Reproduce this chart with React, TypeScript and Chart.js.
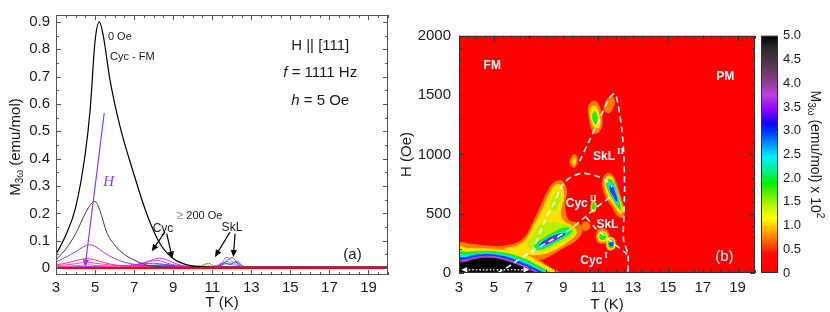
import React, { useEffect, useRef } from 'react';
import { Chart, registerables } from 'chart.js';

Chart.register(...registerables);

const SANS = '"Liberation Sans", Arial, Helvetica, sans-serif';
const SERIF = '"Liberation Serif", "Times New Roman", serif';
const INK = '#1a1a1a';

// ================= Panel (a): M3ω vs T =================
const aXTicks = [3, 5, 7, 9, 11, 13, 15, 17, 19];
const aYTicks = [0, 0.1, 0.2, 0.3, 0.4, 0.5, 0.6, 0.7, 0.8, 0.9];
const aYLabels = ['0', '0.1', '0.2', '0.3', '0.4', '0.5', '0.6', '0.7', '0.8', '0.9'];

const T_0Oe = [3, 3.5, 4, 4.5, 4.75, 5.0, 5.22, 5.42, 5.76, 6.27, 6.96, 7.64, 8.32, 9.0, 9.7, 10.5, 12, 20];
const M_0Oe = [0.05, 0.12, 0.22, 0.42, 0.58, 0.83, 0.9, 0.85, 0.69, 0.52, 0.35, 0.2, 0.09, 0.035, 0.012, 0.005, 0.003, 0.003];
const T_50Oe = [3, 3.5, 4, 4.5, 4.75, 5.0, 5.25, 5.6, 6.0, 6.5, 7.0, 7.6, 8.5, 10, 20];
const M_50Oe = [0.03, 0.07, 0.125, 0.2, 0.23, 0.244, 0.21, 0.13, 0.085, 0.05, 0.03, 0.012, 0.005, 0.003, 0.003];
const T_100Oe = [3, 3.5, 4, 4.4, 4.75, 5.05, 5.4, 6, 6.5, 7, 8, 9, 10, 20];
const M_100Oe = [0.023, 0.04, 0.06, 0.078, 0.085, 0.078, 0.06, 0.035, 0.022, 0.014, 0.008, 0.005, 0.003, 0.003];
const T_125Oe = [3, 3.5, 4, 4.6, 5, 5.5, 6, 7, 8, 20];
const M_125Oe = [0.012, 0.018, 0.027, 0.035, 0.03, 0.02, 0.012, 0.007, 0.005, 0.003];
const T_150Oe = [3, 4, 4.6, 5, 6, 7, 20];
const M_150Oe = [0.008, 0.016, 0.022, 0.018, 0.01, 0.006, 0.003];
const T_175Oe = [3, 4, 4.6, 5, 6, 7, 20];
const M_175Oe = [0.005, 0.009, 0.012, 0.01, 0.007, 0.005, 0.003];
const T_200Oe = [3, 5, 6, 7, 7.5, 8, 8.3, 8.7, 9.2, 9.8, 11, 20];
const M_200Oe = [0.003, 0.004, 0.006, 0.012, 0.02, 0.032, 0.037, 0.03, 0.015, 0.006, 0.004, 0.003];
const T_250Oe = [3, 5, 6.5, 7.3, 7.8, 8.2, 8.6, 9.2, 10, 20];
const M_250Oe = [0.003, 0.005, 0.008, 0.015, 0.025, 0.028, 0.02, 0.01, 0.004, 0.003];
const T_300Oe = [3, 6, 7, 7.5, 8, 8.5, 9, 9.8, 20];
const M_300Oe = [0.003, 0.006, 0.012, 0.016, 0.018, 0.014, 0.01, 0.004, 0.003];
const T_350Oe = [3, 6, 7, 8, 8.5, 9, 9.6, 10.5, 20];
const M_350Oe = [0.003, 0.005, 0.008, 0.011, 0.012, 0.01, 0.006, 0.003, 0.003];
const T_400Oe = [3, 7, 8.5, 9.5, 10, 10.5, 20];
const M_400Oe = [0.003, 0.006, 0.01, 0.008, 0.004, 0.003, 0.003];
const T_500Oe = [3, 9.5, 10.4, 10.8, 11.1, 11.5, 20];
const M_500Oe = [0.003, 0.004, 0.008, 0.018, 0.008, 0.004, 0.003];
const T_600Oe = [3, 9.5, 10.3, 10.7, 11.0, 11.5, 20];
const M_600Oe = [0.003, 0.004, 0.007, 0.012, 0.006, 0.004, 0.003];
const T_700Oe = [3, 10, 11, 11.3, 11.5, 11.75, 12, 12.4, 13, 20];
const M_700Oe = [0.003, 0.004, 0.006, 0.012, 0.02, 0.04, 0.025, 0.008, 0.004, 0.003];
const T_800Oe = [3, 11, 11.5, 11.8, 12.0, 12.2, 12.5, 13, 20];
const M_800Oe = [0.003, 0.004, 0.012, 0.03, 0.038, 0.028, 0.01, 0.004, 0.003];
const T_900Oe = [3, 11, 11.5, 11.75, 12.0, 12.3, 12.6, 20];
const M_900Oe = [0.003, 0.004, 0.01, 0.025, 0.018, 0.025, 0.006, 0.003];
const T_1000Oe = [3, 11.2, 11.6, 11.9, 12.2, 12.5, 20];
const M_1000Oe = [0.003, 0.005, 0.02, 0.014, 0.022, 0.005, 0.003];
const T_1200Oe = [3, 11.3, 11.7, 12.1, 12.4, 20];
const M_1200Oe = [0.003, 0.006, 0.016, 0.012, 0.004, 0.003];
const T_2000Oe = [3, 20];
const M_2000Oe = [0.001, 0.001];

// ================= Panel (b): H–T map =================
const bXTicks = [3, 5, 7, 9, 11, 13, 15, 17, 19];
const bYTicks = [0, 500, 1000, 1500, 2000];
const bYLabels = ['0', '500', '1000', '1500', '2000'];
const cbTicks = [0, 0.5, 1, 1.5, 2, 2.5, 3, 3.5, 4, 4.5, 5];
const cbLabels = ['0', '0.5', '1.0', '1.5', '2.0', '2.5', '3.0', '3.5', '4.0', '4.5', '5.0'];

// contour regions [T (K), H (Oe)]
const moundOrange = [[2.9, -30], [2.9, 240], [3.8, 245], [4.65, 232], [5.5, 222], [6.3, 205], [7.2, 150], [8.0, 70], [8.6, -30]];
const moundYellow = [[2.9, -30], [2.9, 210], [3.5, 210], [4.0, 208], [4.65, 207], [5.3, 200], [6.0, 185], [6.6, 168], [7.5, 105], [8.4, -30]];
const moundGreen = [[2.9, -30], [2.9, 170], [3.5, 180], [4.0, 185], [4.65, 187], [5.2, 182], [5.8, 168], [6.5, 138], [7.3, 85], [8.1, -30]];
const moundCyan = [[2.9, -30], [2.9, 140], [3.5, 157], [4.0, 168], [4.65, 173], [5.2, 167], [5.8, 150], [6.5, 116], [7.2, 70], [7.95, -30]];
const moundBlue = [[2.9, -30], [2.9, 115], [3.5, 138], [4.0, 155], [4.65, 160], [5.2, 154], [5.8, 134], [6.5, 96], [7.15, 55], [7.8, -30]];
const moundMauve = [[2.9, -30], [2.9, 90], [3.5, 118], [4.0, 138], [4.65, 146], [5.2, 140], [5.8, 118], [6.5, 78], [7.1, 40], [7.65, -30]];
const moundBlack = [[2.9, -30], [2.9, 72], [3.5, 100], [4.0, 120], [4.65, 128], [5.2, 122], [5.8, 100], [6.5, 62], [7.05, 25], [7.5, -30]];

const plumeOrange = [[5.2, 215], [6.2, 250], [6.8, 310], [7.2, 420], [7.6, 540], [8.0, 670], [8.4, 760], [8.9, 780], [9.2, 700], [9.1, 560], [9.3, 450], [9.9, 420], [10.1, 350], [9.7, 270], [9.0, 210], [8.2, 140], [7.5, 110], [6.5, 170]];
const plumeYellow = [[5.6, 205], [6.4, 235], [6.9, 300], [7.3, 410], [7.75, 530], [8.1, 650], [8.5, 740], [8.9, 740], [9.05, 650], [8.85, 520], [9.0, 440], [9.6, 390], [9.75, 330], [9.3, 265], [8.6, 200], [7.9, 160], [7.2, 150], [6.5, 170]];
const plumeYGreenLow = [[6.9, 240], [7.3, 330], [7.6, 400], [8.0, 425], [8.6, 425], [9.2, 405], [9.65, 370], [9.6, 320], [9.1, 275], [8.4, 220], [7.8, 185], [7.2, 190]];
const plumeYGreenHigh = [[8.2, 560], [8.4, 650], [8.7, 690], [8.85, 640], [8.7, 560], [8.45, 520]];
const blobBGreen = [[7.3, 200], [7.4, 245], [7.9, 300], [8.5, 350], [9.1, 385], [9.45, 370], [9.4, 330], [8.9, 285], [8.3, 235], [7.7, 195]];
const blobBCyan = [[7.45, 215], [7.6, 250], [8.0, 290], [8.5, 330], [9.05, 355], [9.25, 345], [8.9, 300], [8.4, 258], [7.9, 220], [7.6, 205]];
const blobBBlue = [[7.58, 228], [7.75, 258], [8.1, 290], [8.55, 322], [9.0, 338], [9.1, 325], [8.7, 290], [8.2, 250], [7.75, 222]];
const blobBViolet = [[7.85, 245], [8.05, 275], [8.4, 302], [8.7, 312], [8.75, 300], [8.45, 270], [8.05, 245]];

const blobCOrange = [[11.2, 760], [11.45, 840], [11.8, 830], [12.05, 760], [12.3, 640], [12.5, 540], [12.45, 470], [12.1, 480], [11.75, 560], [11.35, 660]];
const blobCYellow = [[11.35, 760], [11.5, 815], [11.75, 815], [11.95, 755], [12.2, 650], [12.4, 545], [12.33, 495], [12.15, 510], [11.85, 580], [11.5, 660]];
const blobCGreen = [[11.45, 750], [11.6, 790], [11.8, 780], [12.0, 720], [12.25, 590], [12.3, 535], [12.15, 545], [11.9, 600], [11.6, 680]];
const blobCCyan = [[11.55, 740], [11.7, 770], [11.85, 750], [12.05, 680], [12.2, 590], [12.1, 575], [11.9, 620], [11.65, 690]];
const blobCBlue = [[11.65, 730], [11.8, 742], [11.95, 690], [12.1, 620], [12.03, 603], [11.88, 640], [11.7, 690]];
const blobCViolet = [[11.82, 700], [11.92, 690], [12.0, 645], [11.95, 632], [11.86, 660]];

const blobDOrange = [[10.4, 1380], [10.6, 1445], [10.9, 1445], [11.2, 1350], [11.2, 1230], [10.9, 1175], [10.6, 1210]];
const blobDYellow = [[10.5, 1370], [10.7, 1410], [10.95, 1390], [11.12, 1300], [11.08, 1230], [10.85, 1220], [10.6, 1260]];
const blobDGreen = [[10.65, 1330], [10.8, 1365], [10.95, 1320], [10.97, 1270], [10.82, 1255], [10.68, 1290]];
const patchTopOrange = [[11.3, 1380], [11.5, 1470], [11.8, 1490], [11.95, 1430], [11.65, 1350]];
const patchMidOrange = [[9.35, 930], [9.5, 995], [9.75, 995], [9.82, 935], [9.6, 885]];
const patchMidYellow = [[9.48, 935], [9.6, 975], [9.72, 945], [9.62, 905]];
const patchLowOrange = [[10.0, 375], [10.1, 425], [10.4, 430], [10.55, 390], [10.3, 355]];
const blobEYellow = [[10.55, 540], [10.6, 600], [10.75, 615], [10.9, 575], [10.85, 525], [10.68, 510]];
const blobEGreen = [[10.63, 545], [10.67, 585], [10.76, 595], [10.84, 570], [10.8, 535], [10.7, 528]];
const blobFOrange = [[10.85, 300], [11.0, 370], [11.45, 370], [11.65, 310], [11.5, 255], [11.05, 250]];
const blobFYellow = [[10.95, 300], [11.05, 350], [11.4, 350], [11.55, 310], [11.45, 270], [11.1, 265]];
const blobFGreen = [[11.05, 305], [11.15, 335], [11.35, 335], [11.45, 305], [11.35, 280], [11.15, 280]];
const blobGYellow = [[11.45, 240], [11.5, 290], [11.75, 305], [11.97, 275], [11.97, 215], [11.7, 190], [11.5, 205]];
const blobGGreen = [[11.55, 240], [11.6, 278], [11.75, 288], [11.9, 262], [11.87, 220], [11.66, 208]];
const blobGBlue = [[11.64, 240], [11.7, 266], [11.8, 268], [11.86, 242], [11.75, 222]];
const blobGViolet = [[11.69, 245], [11.74, 258], [11.8, 250], [11.76, 236]];

// phase boundaries (dashed)
const lineCycI = [[5.2, 0], [5.8, 50], [6.3, 100], [7.1, 175], [8.2, 268], [9.3, 360], [10.1, 455], [10.9, 555], [11.65, 636]];
const lineCycII = [[7.2, 170], [7.9, 430], [8.45, 590], [9.0, 755], [9.55, 818], [10.12, 840], [10.89, 818], [11.46, 777], [11.8, 725]];
const lineSkLII = [[9.93, 943], [10.5, 1121], [11.08, 1300], [11.65, 1479], [11.94, 1510], [12.13, 1428], [12.41, 1121], [12.51, 738], [12.47, 483], [12.45, 280], [12.7, 160], [12.7, 0]];
const lineSkL = [[10.3, 470], [10.9, 368], [11.4, 310], [11.75, 266], [12.3, 200], [12.65, 160]];
const hysteresisArrow = [[3.13, 28], [7.05, 28]];

const cbStops: [number, string][] = [
  [0, '#ff0000'], [0.4, '#ff0800'], [0.55, '#ff3c00'], [0.75, '#ff7f00'], [0.95, '#ffc000'], [1.15, '#ffff00'],
  [1.4, '#c0f500'], [1.7, '#50f000'], [1.9, '#00f000'], [2.2, '#00f0a0'], [2.45, '#00f0ff'], [2.7, '#0098ff'],
  [2.95, '#0040ff'], [3.15, '#1000ff'], [3.45, '#9000ff'], [3.75, '#c040e0'], [4.05, '#8a3c8a'], [4.45, '#4a3548'],
  [4.75, '#2a2a2a'], [5, '#000000'],
];

const C_ORANGE = '#ff7a00';
const C_YELLOW = '#ffe100';
const C_YGREEN = '#b8ef00';
const C_GREEN = '#19ee19';
const C_CYAN = '#00e6f0';
const C_BLUE = '#0a3cff';
const C_VIOLET = '#8a1cff';
const C_MAUVE = '#b048c8';
const C_BLACK = '#000000';
const HEAT_BG = '#ff0000';

const contourLayers: { pts: number[][]; color: string }[] = [
  { pts: moundOrange, color: C_ORANGE },
  { pts: plumeOrange, color: C_ORANGE },
  { pts: blobCOrange, color: C_ORANGE },
  { pts: blobDOrange, color: C_ORANGE },
  { pts: patchTopOrange, color: C_ORANGE },
  { pts: patchMidOrange, color: C_ORANGE },
  { pts: patchLowOrange, color: C_ORANGE },
  { pts: blobFOrange, color: C_ORANGE },
  { pts: moundYellow, color: C_YELLOW },
  { pts: plumeYellow, color: C_YELLOW },
  { pts: blobCYellow, color: C_YELLOW },
  { pts: blobDYellow, color: C_YELLOW },
  { pts: patchMidYellow, color: C_YELLOW },
  { pts: blobEYellow, color: C_YELLOW },
  { pts: blobFYellow, color: C_YELLOW },
  { pts: blobGYellow, color: C_YELLOW },
  { pts: plumeYGreenLow, color: C_YGREEN },
  { pts: plumeYGreenHigh, color: C_YGREEN },
  { pts: moundGreen, color: C_GREEN },
  { pts: blobBGreen, color: C_GREEN },
  { pts: blobCGreen, color: C_GREEN },
  { pts: blobDGreen, color: C_GREEN },
  { pts: blobEGreen, color: C_GREEN },
  { pts: blobFGreen, color: C_GREEN },
  { pts: blobGGreen, color: C_GREEN },
  { pts: moundCyan, color: C_CYAN },
  { pts: blobBCyan, color: C_CYAN },
  { pts: blobCCyan, color: C_CYAN },
  { pts: moundBlue, color: C_BLUE },
  { pts: blobBBlue, color: C_BLUE },
  { pts: blobCBlue, color: C_BLUE },
  { pts: blobGBlue, color: C_BLUE },
  { pts: moundMauve, color: C_MAUVE },
  { pts: blobBViolet, color: C_VIOLET },
  { pts: blobCViolet, color: C_VIOLET },
  { pts: blobGViolet, color: C_VIOLET },
  { pts: moundBlack, color: C_BLACK },
];

// ---------------- helpers ----------------
const zip = (T: number[], M: number[]) => T.map((t, i) => ({ x: t, y: M[i] }));
const xy = (arr: number[][]) => arr.map(([x, y]) => ({ x, y }));

type Run = { t: string; font: string; color?: string; dy?: number; dx?: number };
function drawRuns(ctx: CanvasRenderingContext2D, runs: Run[], x: number, y: number, align: 'left' | 'center', rot = 0) {
  ctx.save();
  ctx.translate(x, y);
  ctx.rotate(rot);
  ctx.textBaseline = 'middle';
  ctx.textAlign = 'left';
  let w = 0;
  runs.forEach((r) => { ctx.font = r.font; w += ctx.measureText(r.t).width + (r.dx || 0); });
  let cx = align === 'center' ? -w / 2 : 0;
  runs.forEach((r) => {
    ctx.font = r.font;
    ctx.fillStyle = r.color || INK;
    cx += r.dx || 0;
    ctx.fillText(r.t, cx, r.dy || 0);
    cx += ctx.measureText(r.t).width;
  });
  ctx.restore();
}

function drawArrow(ctx: CanvasRenderingContext2D, x1: number, y1: number, x2: number, y2: number, color: string, head = 6, lw = 1.2) {
  const ang = Math.atan2(y2 - y1, x2 - x1);
  const c = Math.cos(ang), s = Math.sin(ang);
  ctx.save();
  ctx.strokeStyle = color;
  ctx.fillStyle = color;
  ctx.lineWidth = lw;
  ctx.beginPath();
  ctx.moveTo(x1, y1);
  ctx.lineTo(x2 - head * 0.8 * c, y2 - head * 0.8 * s);
  ctx.stroke();
  ctx.beginPath();
  ctx.moveTo(x2, y2);
  ctx.lineTo(x2 - head * c - head * 0.45 * s, y2 - head * s + head * 0.45 * c);
  ctx.lineTo(x2 - head * c + head * 0.45 * s, y2 - head * s - head * 0.45 * c);
  ctx.closePath();
  ctx.fill();
  ctx.restore();
}

function drawFrameTicks(chart: any, xMajor: number[], xMinorStep: number, yMajor: number[], yMinorStep: number, color: string) {
  const { ctx, chartArea: a } = chart;
  const xs = chart.scales.x, ys = chart.scales.y;
  ctx.save();
  ctx.strokeStyle = color;
  ctx.lineWidth = 1;
  ctx.strokeRect(a.left + 0.5, a.top + 0.5, a.right - a.left - 1, a.bottom - a.top - 1);
  ctx.beginPath();
  const tickX = (v: number, len: number) => {
    const p = Math.round(xs.getPixelForValue(v)) + 0.5;
    ctx.moveTo(p, a.bottom); ctx.lineTo(p, a.bottom - len);
    ctx.moveTo(p, a.top); ctx.lineTo(p, a.top + len);
  };
  const tickY = (v: number, len: number) => {
    const p = Math.round(ys.getPixelForValue(v)) + 0.5;
    ctx.moveTo(a.left, p); ctx.lineTo(a.left + len, p);
    ctx.moveTo(a.right, p); ctx.lineTo(a.right - len, p);
  };
  for (let v = xs.min; v <= xs.max + 1e-9; v += xMinorStep) tickX(v, 3);
  xMajor.forEach((v) => tickX(v, 5));
  for (let v = 0; v <= ys.max + 1e-9; v += yMinorStep) tickY(v, 3);
  yMajor.forEach((v) => tickY(v, 5));
  ctx.stroke();
  ctx.restore();
}

function smoothClosed(ctx: CanvasRenderingContext2D, p: { x: number; y: number }[]) {
  const n = p.length;
  ctx.beginPath();
  ctx.moveTo(p[0].x, p[0].y);
  for (let i = 0; i < n; i++) {
    const p0 = p[(i - 1 + n) % n], p1 = p[i], p2 = p[(i + 1) % n], p3 = p[(i + 2) % n];
    ctx.bezierCurveTo(
      p1.x + (p2.x - p0.x) / 6, p1.y + (p2.y - p0.y) / 6,
      p2.x - (p3.x - p1.x) / 6, p2.y - (p3.y - p1.y) / 6,
      p2.x, p2.y,
    );
  }
  ctx.closePath();
}

// ---------------- chart (a) ----------------
function makeChartA(canvas: HTMLCanvasElement) {
  const series = [
    { T: T_2000Oe, M: M_2000Oe, color: '#ff0000', w: 2 },
    { T: T_0Oe, M: M_0Oe, color: '#000000', w: 1.2 },
    { T: T_50Oe, M: M_50Oe, color: '#46304c', w: 1 },
    { T: T_100Oe, M: M_100Oe, color: '#b030e8', w: 1 },
    { T: T_125Oe, M: M_125Oe, color: '#ff2a7a', w: 1 },
    { T: T_150Oe, M: M_150Oe, color: '#ff3fa0', w: 1 },
    { T: T_175Oe, M: M_175Oe, color: '#ff50c0', w: 1 },
    { T: T_200Oe, M: M_200Oe, color: '#e030e0', w: 1 },
    { T: T_250Oe, M: M_250Oe, color: '#c040ff', w: 1 },
    { T: T_300Oe, M: M_300Oe, color: '#7040ff', w: 1 },
    { T: T_350Oe, M: M_350Oe, color: '#2050ff', w: 1 },
    { T: T_400Oe, M: M_400Oe, color: '#20a0d0', w: 1 },
    { T: T_500Oe, M: M_500Oe, color: '#40c020', w: 1 },
    { T: T_600Oe, M: M_600Oe, color: '#a8e010', w: 1 },
    { T: T_700Oe, M: M_700Oe, color: '#ff40c8', w: 1 },
    { T: T_800Oe, M: M_800Oe, color: '#1e5cff', w: 1 },
    { T: T_900Oe, M: M_900Oe, color: '#3c96ff', w: 1 },
    { T: T_1000Oe, M: M_1000Oe, color: '#1040d0', w: 1 },
    { T: T_1200Oe, M: M_1200Oe, color: '#50b0ff', w: 1 },
  ];

  const annot = {
    id: 'annotA',
    afterDatasetsDraw(chart: any) {
      const { ctx } = chart;
      const xs = chart.scales.x, ys = chart.scales.y;
      const px = (t: number) => xs.getPixelForValue(t);
      const py = (m: number) => ys.getPixelForValue(m);
      drawFrameTicks(chart, aXTicks, 0.5, aYTicks, 0.05, '#555555');

      const f11 = `11px ${SANS}`;
      const f15 = `15px ${SANS}`;
      drawRuns(ctx, [{ t: '0 Oe', font: f11 }], px(5.66), py(0.845), 'left');
      drawRuns(ctx, [{ t: 'Cyc - FM', font: f11 }], px(5.77), py(0.773), 'left');
      drawRuns(ctx, [{ t: 'H || [111]', font: f15 }], px(16.53), py(0.813), 'center');
      drawRuns(ctx, [{ t: 'f', font: `italic 15px ${SANS}` }, { t: ' = 1111 Hz', font: f15 }], px(16.53), py(0.715), 'center');
      drawRuns(ctx, [{ t: 'h', font: `italic 15px ${SANS}` }, { t: ' = 5 Oe', font: f15 }], px(16.53), py(0.613), 'center');
      drawRuns(ctx, [{ t: '\u2265', font: `12px ${SANS}`, color: '#888888' }, { t: ' 200 Oe', font: f11 }], px(9.18), py(0.192), 'left');
      drawRuns(ctx, [{ t: 'Cyc', font: `12px ${SANS}` }], px(8.48), py(0.143), 'center');
      drawRuns(ctx, [{ t: 'SkL', font: `12px ${SANS}` }], px(12.01), py(0.147), 'center');
      drawRuns(ctx, [{ t: '(a)', font: `15px ${SANS}` }], px(18.18), py(0.047), 'center');

      // field arrow
      drawArrow(ctx, px(5.47), py(0.567), px(4.49), py(0.006), '#8a3cf0', 7, 1.2);
      drawRuns(ctx, [{ t: 'H', font: `italic 15px ${SERIF}`, color: '#8a3cf0' }], px(5.7), py(0.313), 'center');

      // pointer arrows
      drawArrow(ctx, px(8.58), py(0.132), px(7.9), py(0.062), '#000000', 7);
      drawArrow(ctx, px(8.67), py(0.126), px(8.96), py(0.035), '#000000', 7);
      drawArrow(ctx, px(11.91), py(0.132), px(11.14), py(0.041), '#000000', 7);
      drawArrow(ctx, px(12.17), py(0.126), px(12.08), py(0.041), '#000000', 7);

      // y-axis title
      drawRuns(ctx, [
        { t: 'M', font: f15 },
        { t: '3\u03c9', font: `10px ${SANS}`, dy: 4 },
        { t: ' (emu/mol)', font: f15 },
      ], 16, (chart.chartArea.top + chart.chartArea.bottom) / 2 + 2, 'center', -Math.PI / 2);
    },
  };

  return new Chart(canvas, {
    type: 'scatter',
    data: {
      datasets: series.map((s) => ({
        data: zip(s.T, s.M),
        showLine: true,
        borderColor: s.color,
        backgroundColor: s.color,
        borderWidth: s.w,
        pointRadius: 0,
        pointHoverRadius: 0,
        cubicInterpolationMode: 'monotone' as const,
        fill: false,
      })),
    },
    options: {
      animation: false,
      responsive: false,
      events: [],
      layout: { padding: { left: 0, right: 7, top: 13, bottom: 0 } },
      plugins: { legend: { display: false }, tooltip: { enabled: false } },
      scales: {
        x: {
          type: 'linear',
          min: 3,
          max: 20,
          afterBuildTicks: (s: any) => { s.ticks = aXTicks.map((v) => ({ value: v })); },
          afterFit: (s: any) => { s.height = 37; },
          grid: { display: false, drawTicks: false },
          border: { display: false },
          ticks: { autoSkip: false, maxRotation: 0, padding: 4, color: INK, font: { family: SANS, size: 15 } },
          title: { display: true, text: 'T (K)', color: INK, font: { family: SANS, size: 15 }, padding: { top: 0, bottom: 0 } },
        },
        y: {
          type: 'linear',
          min: -0.025,
          max: 0.925,
          afterBuildTicks: (s: any) => { s.ticks = aYTicks.map((v) => ({ value: v })); },
          afterFit: (s: any) => { s.width = 56; },
          grid: { display: false, drawTicks: false },
          border: { display: false },
          ticks: {
            autoSkip: false,
            padding: 6,
            color: INK,
            font: { family: SANS, size: 15 },
            callback: (_v: any, i: number) => aYLabels[i],
          },
        },
      },
    },
    plugins: [annot],
  } as any);
}

// ---------------- chart (b) ----------------
function makeChartB(canvas: HTMLCanvasElement) {
  const dashed = (pts: number[][]) => ({
    data: xy(pts),
    showLine: true,
    borderColor: '#ffffff',
    borderWidth: 1.6,
    borderDash: [6, 4],
    pointRadius: 0,
    pointHoverRadius: 0,
    tension: 0.3,
    fill: false,
  });

  const contours = {
    id: 'contours',
    beforeDatasetsDraw(chart: any) {
      const { ctx, chartArea: a } = chart;
      ctx.save();
      ctx.beginPath();
      ctx.rect(a.left, a.top, a.right - a.left, a.bottom - a.top);
      ctx.clip();
      ctx.fillStyle = HEAT_BG;
      ctx.fillRect(a.left, a.top, a.right - a.left, a.bottom - a.top);
      contourLayers.forEach((layer, i) => {
        const meta = chart.getDatasetMeta(i);
        const pts = meta.data.map((e: any) => ({ x: e.x, y: e.y }));
        ctx.fillStyle = layer.color;
        smoothClosed(ctx, pts);
        ctx.fill();
      });
      ctx.restore();
    },
    afterDatasetsDraw(chart: any) {
      const { ctx, chartArea: a } = chart;
      const xs = chart.scales.x, ys = chart.scales.y, yc = chart.scales.yc;
      const px = (t: number) => xs.getPixelForValue(t);
      const py = (h: number) => ys.getPixelForValue(h);

      // hysteresis double arrow
      const ha = hysteresisArrow;
      ctx.save();
      ctx.strokeStyle = '#ffffff';
      ctx.lineWidth = 1.5;
      ctx.setLineDash([1.5, 2]);
      ctx.beginPath();
      ctx.moveTo(px(ha[0][0]) + 4, py(ha[0][1]));
      ctx.lineTo(px(ha[1][0]) - 4, py(ha[1][1]));
      ctx.stroke();
      ctx.restore();
      drawArrow(ctx, px(ha[0][0]) + 6, py(ha[0][1]), px(ha[0][0]), py(ha[0][1]), '#ffffff', 6, 0.1);
      drawArrow(ctx, px(ha[1][0]) - 6, py(ha[1][1]), px(ha[1][0]), py(ha[1][1]), '#ffffff', 6, 0.1);

      drawFrameTicks(chart, bXTicks, 0.5, bYTicks, 100, '#333333');

      const b12 = `bold 12px ${SANS}`;
      const sup = `bold 9px ${SERIF}`;
      const W = '#ffffff';
      drawRuns(ctx, [{ t: 'FM', font: b12, color: W }], px(4.91), py(1747), 'center');
      drawRuns(ctx, [{ t: 'PM', font: b12, color: W }], px(18.29), py(1655), 'center');
      drawRuns(ctx, [{ t: 'SkL', font: b12, color: W }, { t: 'II', font: sup, color: W, dy: -5, dx: 2 }], px(10.7), py(981), 'left');
      drawRuns(ctx, [{ t: 'Cyc', font: b12, color: W }, { t: 'II', font: sup, color: W, dy: -5, dx: 2 }], px(9.13), py(585), 'left');
      drawRuns(ctx, [{ t: 'SkL', font: b12, color: W }], px(10.89), py(410), 'left');
      drawRuns(ctx, [{ t: 'Cyc', font: b12, color: W }, { t: 'I', font: sup, color: W, dy: -5, dx: 2 }], px(9.97), py(103), 'left');
      drawRuns(ctx, [{ t: '(b)', font: `15px ${SANS}`, color: W }], px(18.24), py(134), 'center');

      // colour bar
      const x0 = a.right + 6, w = 17;
      const y0 = yc.getPixelForValue(5), y1 = yc.getPixelForValue(0);
      const grad = ctx.createLinearGradient(0, y1, 0, y0);
      cbStops.forEach(([v, c]) => grad.addColorStop(v / 5, c));
      ctx.save();
      ctx.fillStyle = grad;
      ctx.fillRect(x0, y0, w, y1 - y0);
      ctx.strokeStyle = '#333333';
      ctx.lineWidth = 1;
      ctx.strokeRect(x0 + 0.5, y0 + 0.5, w - 1, y1 - y0 - 1);
      ctx.restore();

      // axis titles
      drawRuns(ctx, [{ t: 'H (Oe)', font: `15px ${SANS}` }], 12, (a.top + a.bottom) / 2, 'center', -Math.PI / 2);
      drawRuns(ctx, [
        { t: 'M', font: `14px ${SANS}` },
        { t: '3\u03c9', font: `10px ${SANS}`, dy: 4 },
        { t: ' (emu/mol) x 10', font: `14px ${SANS}` },
        { t: '2', font: `10px ${SANS}`, dy: -5 },
      ], 420, (a.top + a.bottom) / 2, 'center', Math.PI / 2);
    },
  };

  const datasets: any[] = contourLayers.map((l) => ({
    data: xy(l.pts),
    showLine: false,
    pointRadius: 0,
    pointHoverRadius: 0,
  }));
  datasets.push(dashed(lineCycI), dashed(lineCycII), dashed(lineSkLII), dashed(lineSkL));

  return new Chart(canvas, {
    type: 'scatter',
    data: { datasets },
    options: {
      animation: false,
      responsive: false,
      events: [],
      layout: { padding: { left: 0, right: 0, top: 12, bottom: 0 } },
      plugins: { legend: { display: false }, tooltip: { enabled: false } },
      scales: {
        x: {
          type: 'linear',
          min: 3,
          max: 20,
          afterBuildTicks: (s: any) => { s.ticks = bXTicks.map((v) => ({ value: v })); },
          afterFit: (s: any) => { s.height = 39; },
          grid: { display: false, drawTicks: false },
          border: { display: false },
          ticks: { autoSkip: false, maxRotation: 0, padding: 6, color: INK, font: { family: SANS, size: 15 } },
          title: { display: true, text: 'T (K)', color: INK, font: { family: SANS, size: 15 }, padding: { top: 0, bottom: -2 } },
        },
        y: {
          type: 'linear',
          min: 0,
          max: 2000,
          afterBuildTicks: (s: any) => { s.ticks = bYTicks.map((v) => ({ value: v })); },
          afterFit: (s: any) => { s.width = 64; },
          grid: { display: false, drawTicks: false },
          border: { display: false },
          ticks: {
            autoSkip: false,
            padding: 8,
            color: INK,
            font: { family: SANS, size: 15 },
            callback: (_v: any, i: number) => bYLabels[i],
          },
        },
        yc: {
          type: 'linear',
          position: 'right',
          min: 0,
          max: 5,
          afterBuildTicks: (s: any) => { s.ticks = cbTicks.map((v) => ({ value: v })); },
          afterFit: (s: any) => { s.width = 75; },
          grid: { display: false, drawTicks: false },
          border: { display: false },
          ticks: {
            autoSkip: false,
            padding: 28,
            color: INK,
            font: { family: SANS, size: 13 },
            callback: (_v: any, i: number) => cbLabels[i],
          },
        },
      },
    },
    plugins: [contours],
  } as any);
}

export default function App() {
  const refA = useRef<HTMLCanvasElement>(null);
  const refB = useRef<HTMLCanvasElement>(null);
  useEffect(() => {
    const a = makeChartA(refA.current!);
    const b = makeChartB(refB.current!);
    return () => {
      a.destroy();
      b.destroy();
    };
  }, []);
  return (
    <div style={{ position: 'fixed', left: 0, top: 0, width: 830, height: 312, background: '#ffffff', overflow: 'hidden' }}>
      <canvas ref={refA} width={395} height={312} style={{ position: 'absolute', left: 0, top: 0, width: 395, height: 312 }} />
      <canvas ref={refB} width={435} height={312} style={{ position: 'absolute', left: 395, top: 0, width: 435, height: 312 }} />
    </div>
  );
}
